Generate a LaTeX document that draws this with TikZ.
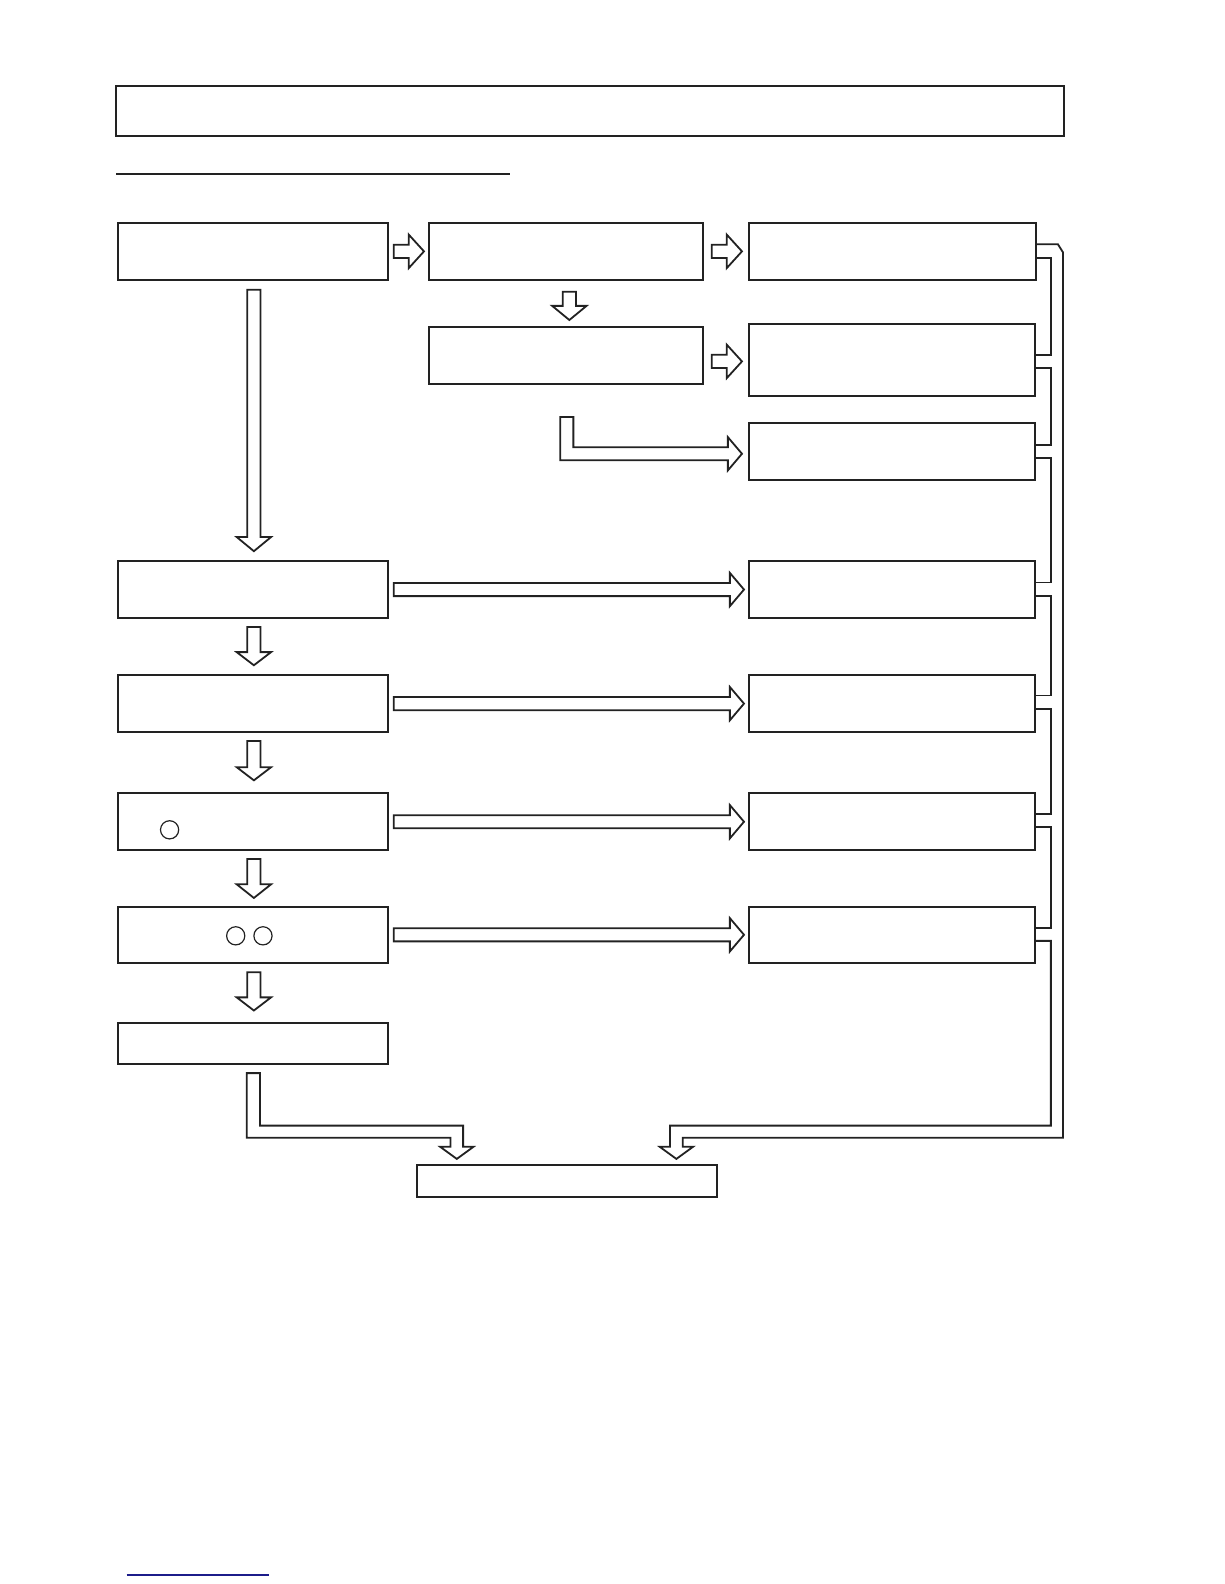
\documentclass[tikz,border=0pt]{standalone}
\usetikzlibrary{fit}
\definecolor{ink}{HTML}{222222}
\definecolor{navy}{HTML}{1C1C8A}
\newcommand{\harrow}[4]{\draw[barrow] (#1,#4-6.5) -- (#2,#4-6.5) -- (#2,#4-16.5) -- (#3,#4) -- (#2,#4+16.5) -- (#2,#4+6.5) -- (#1,#4+6.5) -- cycle;}
\newcommand{\varrow}[4]{\draw[barrow] (#4-6.5,#1) -- (#4-6.5,#2) -- (#4-17,#2) -- (#4,#3) -- (#4+17,#2) -- (#4+6.5,#2) -- (#4+6.5,#1) -- cycle;}
\begin{document}
\begin{tikzpicture}[x=0.50475pt,y=-0.50475pt,
  box/.style={draw=ink,line width=1pt,inner sep=0pt,outer sep=0pt},
  barrow/.style={draw=ink,line width=0.9pt,line join=miter,fill=white},
  pipe/.style={draw=ink,line width=0.9pt,line join=miter},
  ring/.style={draw=ink,circle,line width=0.6pt,inner sep=0pt,minimum size=9.1pt}]
\useasboundingbox (0,0) rectangle (1212.5,1569.1);
% title and underline
\node[box,line width=1.2pt,fit={(115,85)(1054,135)}] (title) {};
\coordinate (ul1) at (115,172);
\coordinate (ul2) at (505,172);
\draw[ink,line width=1pt] (ul1) -- (ul2);
% column 1
\node[box,fit={(117,221)(384,277)}] (A) {};
\node[box,fit={(117,556)(384,612)}] (E) {};
\node[box,fit={(117,669)(384,725)}] (F) {};
\node[box,fit={(117,786)(384,842)}] (G) {};
\node[box,fit={(117,898)(384,954)}] (H) {};
\node[box,fit={(117,1013)(384,1054)}] (I) {};
% column 2
\node[box,fit={(425,221)(696,277)}] (B) {};
\node[box,fit={(425,324)(696,380)}] (C) {};
% column 3
\node[box,fit={(742,221)(1026,277)}] (D1) {};
\node[box,fit={(742,321)(1025,392)}] (D2) {};
\node[box,fit={(742,419)(1025,475)}] (D3) {};
\node[box,fit={(742,556)(1025,612)}] (D4) {};
\node[box,fit={(742,669)(1025,725)}] (D5) {};
\node[box,fit={(742,786)(1025,842)}] (D6) {};
\node[box,fit={(742,898)(1025,954)}] (D7) {};
% final
\node[box,fit={(413,1154)(710,1185.5)}] (Z) {};
% circles
\node[ring] (g1) at (168,822) {};
\node[ring] (h1) at (233.5,927) {};
\node[ring] (h2) at (260.5,927) {};
% right block arrows
\harrow{390}{405}{420}{249}
\harrow{705}{720}{735}{249}
\harrow{705}{720}{735}{358}
\harrow{390}{723}{737}{584}
\harrow{390}{723}{737}{697}
\harrow{390}{723}{737}{814}
\harrow{390}{723}{737}{926}
% down block arrows
\varrow{289}{303}{317}{564}
\varrow{287}{532}{546}{251.5}
\varrow{621}{646}{659}{251.5}
\varrow{734}{760}{773}{251.5}
\varrow{851}{876}{889.5}{251.5}
\varrow{963}{988}{1001}{251.5}
% L arrow C -> D3
\draw[barrow] (555,413) -- (568,413) -- (568,443) -- (721,443) -- (721,433) -- (735,449.5) -- (721,466) -- (721,456) -- (555,456) -- cycle;
% bottom-left arrow I -> Z
\draw[barrow] (244.5,1063) -- (257.5,1063) -- (257.5,1115) -- (458.75,1115) -- (458.75,1136) -- (469,1136) -- (452.5,1148) -- (436,1136) -- (446.25,1136) -- (446.25,1127) -- (244.5,1127) -- cycle;
% right collecting pipe
\draw[pipe] (1026,242) -- (1048,242) -- (1053,250) -- (1053,1127) -- (676.25,1127) -- (676.25,1136) -- (686.5,1136) -- (670,1148) -- (653.5,1136) -- (663.75,1136) -- (663.75,1115) -- (1041,1115) -- (1041,932) -- (1025,932);
\draw[pipe] (1026,255.5) -- (1041,255.5) -- (1041,352) -- (1025,352);
\draw[pipe] (1025,364.5) -- (1041,364.5) -- (1041,441) -- (1025,441);
\draw[pipe] (1025,454) -- (1041,454) -- (1041,577) -- (1025,577);
\draw[pipe] (1025,590) -- (1041,590) -- (1041,689) -- (1025,689);
\draw[pipe] (1025,702) -- (1041,702) -- (1041,806) -- (1025,806);
\draw[pipe] (1025,819) -- (1041,819) -- (1041,919) -- (1025,919);
% footer line
\coordinate (fl1) at (125.5,1560);
\coordinate (fl2) at (266,1560);
\draw[navy,line width=0.8pt] (fl1) -- (fl2);
\end{tikzpicture}
\end{document}
